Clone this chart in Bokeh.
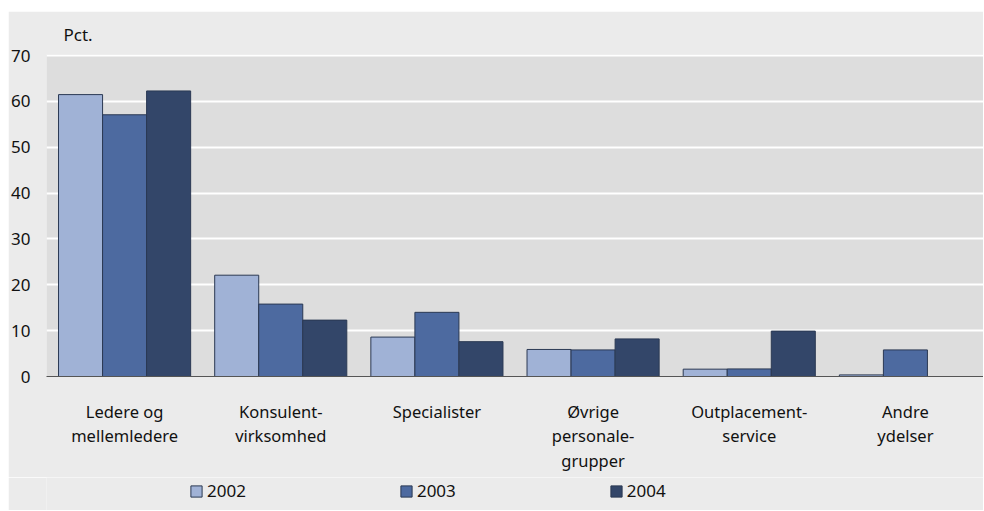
from bokeh.plotting import figure
from bokeh.models import FactorRange, Range1d, Legend, LegendItem, FixedTicker, ColumnDataSource, Spacer
from bokeh.layouts import row, column
from bokeh.transform import dodge
from bokeh.embed import file_html
from bokeh.resources import INLINE

categories = ["Ledere og\nmellemledere", "Konsulent-\nvirksomhed", "Specialister",
              "Øvrige\npersonale-\ngrupper", "Outplacement-\nservice", "Andre\nydelser"]
years = ["2002", "2003", "2004"]
v2002 = [61.5, 22.1, 8.6, 5.9, 1.6, 0.35]
v2003 = [57.1, 15.8, 14.0, 5.8, 1.65, 5.8]
v2004 = [62.3, 12.3, 7.6, 8.2, 9.9, 0.0]
y_ticks = [0, 10, 20, 30, 40, 50, 60, 70]

colors = ["#a0b2d6", "#4d6aa0", "#334669"]
OUTLINE = "#2b3953"
BG = "#ebebeb"
FONT = "Noto Sans"
FS = "17px"

src = ColumnDataSource(dict(cat=categories, y2002=v2002, y2003=v2003, y2004=v2004))

p = figure(x_range=FactorRange(factors=categories, range_padding=0),
           y_range=Range1d(0, 70.25),
           width=975, height=466, output_backend="svg", toolbar_location=None,
           background_fill_color="#dddddd", border_fill_color=BG,
           min_border_left=33, min_border_right=0, min_border_top=42, min_border_bottom=101,
           outline_line_color=None)

p.title.text = "Pct."
p.title.align = "left"
p.title.offset = 17
p.title.standoff = 18
p.title.text_font = FONT
p.title.text_font_size = FS
p.title.text_font_style = "normal"
p.title.text_color = "#111111"

bw = 0.282
for i, (yr, col) in enumerate(zip(years, colors)):
    p.vbar(x=dodge("cat", (i - 1) * bw, range=p.x_range), top="y" + yr, width=bw,
           source=src, fill_color=col, line_color=OUTLINE, line_width=1)

p.xgrid.grid_line_color = None
p.ygrid.grid_line_color = "white"
p.ygrid.grid_line_width = 2
p.yaxis.ticker = FixedTicker(ticks=y_ticks)
p.yaxis.axis_line_color = None
p.yaxis.major_tick_line_color = None
p.yaxis.minor_tick_line_color = None
p.yaxis.major_label_standoff = 10
p.yaxis.major_label_text_font = FONT
p.yaxis.major_label_text_font_size = FS
p.yaxis.major_label_text_color = "#111111"

p.xaxis.axis_line_color = "#555555"
p.xaxis.axis_line_width = 1
p.xaxis.major_tick_line_color = None
p.xaxis.minor_tick_line_color = None
p.xaxis.major_label_standoff = 17
p.xaxis.major_label_text_font = FONT
p.xaxis.major_label_text_font_size = "16.5px"
p.xaxis.major_label_text_color = "#111111"
p.xaxis.major_label_text_line_height = 1.08

# legend strip below the chart (swatch proxies lie outside the strip's visible range)
pl = figure(width=975, height=33, output_backend="svg", toolbar_location=None,
            x_range=Range1d(0, 1), y_range=Range1d(0, 1),
            x_axis_location=None, y_axis_location=None,
            background_fill_color=BG, border_fill_color=BG, outline_line_color=None,
            min_border=0)
pl.grid.visible = False
leg_r = []
for col in colors:
    leg_r.append(pl.vbar(x=[-5], top=[-4], bottom=[-5], width=0.1,
                         fill_color=col, line_color=OUTLINE, line_width=1))
legend = Legend(items=[LegendItem(label=yr, renderers=[r]) for yr, r in zip(years, leg_r)],
                orientation="horizontal", location=(143, 8),
                background_fill_alpha=0, border_line_color=None,
                padding=0, margin=0, spacing=153,
                glyph_width=14, glyph_height=14, label_standoff=4,
                label_text_font=FONT, label_text_font_size=FS, label_text_color="#111111")
pl.add_layout(legend, "center")

layout = row(Spacer(width=8), column(Spacer(height=11), p, pl))
open("out.html", "w").write(file_html(layout, INLINE))
